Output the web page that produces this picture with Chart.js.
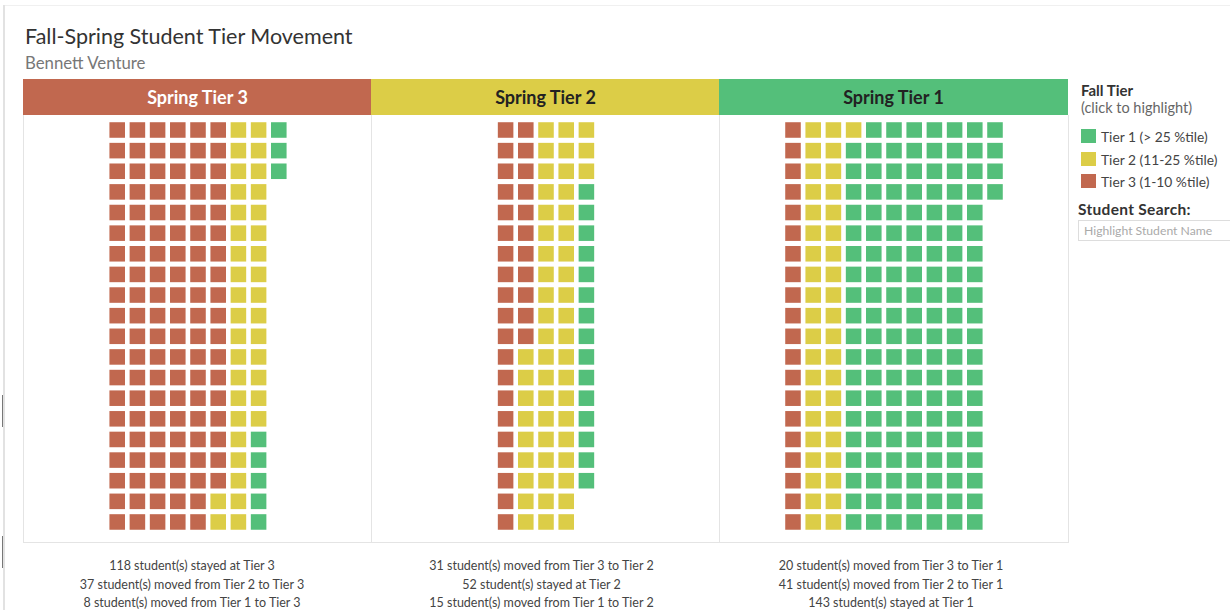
<!DOCTYPE html>
<html>
<head>
<meta charset="utf-8">
<script src="https://cdn.jsdelivr.net/npm/chart.js@4.4.1/dist/chart.umd.min.js"></script>
<style>
  html, body { margin: 0; padding: 0; background: #fff; }
  body { width: 1230px; height: 610px; position: relative; overflow: hidden; font-family: 'Lato', 'Noto Sans', sans-serif; }
  .frame-top { position: absolute; left: 3px; top: 5px; width: 1227px; height: 1px; background: #f0f0f0; }
  .frame-left { position: absolute; left: 3px; top: 5px; width: 2px; height: 605px; background: #e2e2e2; }
  .grip { position: absolute; left: 2px; width: 1px; background: #777; }
  #title { position: absolute; left: 25px; top: 23px; font-size: 21.5px; color: #333; white-space: nowrap; }
  #subtitle { position: absolute; left: 25px; top: 52px; font-size: 16.8px; color: #777; white-space: nowrap; }
  .header { position: absolute; top: 79px; height: 36px; line-height: 37px; text-align: center; font-size: 18px; font-weight: bold; }
  .panel { position: absolute; top: 115px; height: 427px; border-left: 1px solid #e4e4e4; border-bottom: 1px solid #e4e4e4; }
  .panel.last { border-right: 1px solid #e4e4e4; }
  .panel canvas { position: absolute; left: 0; top: 0; }
  .caption { position: absolute; top: 557px; text-align: center; font-size: 12.5px; line-height: 18.5px; color: #444; white-space: nowrap; }
  #legend { position: absolute; left: 1081px; top: 81px; color: #333; }
  #legend .ltitle { font-size: 15px; font-weight: bold; color: #333; }
  #legend .lsub { font-size: 14.5px; color: #666; margin-top: 0px; }
  #legend .item { position: relative; height: 22.5px; font-size: 13.8px; color: #444; line-height: 15px; padding-left: 20px; }
  #legend .item span { position: absolute; left: 0; top: 0; width: 15px; height: 14px; }
  #search-label { position: absolute; left: 1078px; top: 200px; font-size: 15.5px; font-weight: bold; color: #333; letter-spacing: 0.3px; }
  #search { position: absolute; left: 1078px; top: 220px; width: 160px; height: 21px; border: 1px solid #ddd; font-size: 12.2px; color: #aaa; line-height: 20px; padding-left: 5px; box-sizing: border-box; }
</style>
</head>
<body>
<div class="frame-top"></div>
<div class="frame-left"></div>
<div class="grip" style="top:395px;height:32px"></div>
<div class="grip" style="top:536px;height:32px"></div>
<div id="title">Fall-Spring Student Tier Movement</div>
<div id="subtitle">Bennett Venture</div>
<div id="panels"></div>
<div id="legend"></div>
<div id="search-label">Student Search:</div>
<div id="search">Highlight Student Name</div>

<script>
// spring tier columns (left to right)
const springTiers = [3, 2, 1];
const springLabels = ['Spring Tier 3', 'Spring Tier 2', 'Spring Tier 1'];
// fall tier of the students in each spring tier
const fallTiers = [3, 2, 1];
const fromTier3 = [118, 31, 20];
const fromTier2 = [37, 52, 41];
const fromTier1 = [8, 15, 143];
const legendLabels = ['Tier 1 (> 25 %tile)', 'Tier 2 (11-25 %tile)', 'Tier 3 (1-10 %tile)'];
const rowsPerColumn = 20;

const tierColors = { 1: '#54bf7a', 2: '#dccd47', 3: '#c1684f' };
const headerText = { 1: '#222', 2: '#222', 3: '#fff' };

const panelLeft = 23;
const panelWidth = 348;
const panelHeight = 427;
const colStep = 20.2;
const rowStep = 20.63;
const topOffset = 15;

const panelsDiv = document.querySelector('#panels');

springTiers.forEach((spring, p) => {
	const counts = [fromTier3[p], fromTier2[p], fromTier1[p]];
	const total = counts.reduce((a, b) => a + b, 0);
	const nCols = Math.ceil(total / rowsPerColumn);
	const left = panelLeft + p * panelWidth;

	// header
	let header = document.createElement('div');
	header.className = 'header';
	header.style.left = left + 'px';
	header.style.width = (panelWidth + 1) + 'px';
	header.style.background = tierColors[spring];
	header.style.color = headerText[spring];
	header.textContent = springLabels[p];
	document.body.appendChild(header);

	// panel with chart
	let panel = document.createElement('div');
	panel.className = 'panel' + (p == springTiers.length - 1 ? ' last' : '');
	panel.style.left = left + 'px';
	panel.style.width = panelWidth + 'px';
	let canvas = document.createElement('canvas');
	canvas.width = panelWidth;
	canvas.height = panelHeight;
	canvas.style.width = panelWidth + 'px';
	canvas.style.height = panelHeight + 'px';
	panel.appendChild(canvas);
	panelsDiv.appendChild(panel);

	// one dataset per fall tier, students stacked column by column
	let k = 0;
	const datasets = fallTiers.map((fall, f) => {
		let pts = [];
		for (let i = 0; i < counts[f]; i++) {
			pts.push({ x: Math.floor(k / rowsPerColumn), y: k % rowsPerColumn });
			k++;
		}
		return {
			label: 'Tier ' + fall,
			data: pts,
			pointStyle: 'rect',
			pointRadius: 11,
			pointHoverRadius: 11,
			borderWidth: 0,
			backgroundColor: tierColors[fall],
			borderColor: tierColors[fall]
		};
	});

	const xHalf = panelWidth / colStep / 2;
	const yMin = -topOffset / rowStep;

	new Chart(canvas, {
		type: 'scatter',
		data: { datasets: datasets },
		options: {
			responsive: false,
			animation: false,
			events: [],
			layout: { padding: 0, autoPadding: false },
			plugins: { legend: { display: false }, tooltip: { enabled: false } },
			scales: {
				x: { type: 'linear', display: false, min: (nCols - 1) / 2 - xHalf, max: (nCols - 1) / 2 + xHalf },
				y: { type: 'linear', display: false, reverse: true, min: yMin, max: yMin + panelHeight / rowStep }
			}
		}
	});

	// captions under each panel (sit a little left of the panel centre)
	let cap = document.createElement('div');
	cap.className = 'caption';
	cap.style.left = left + 'px';
	cap.style.width = (panelWidth - 10 + p * 3) + 'px';
	cap.innerHTML = fallTiers.map((fall, f) => {
		if (fall == spring) return `${counts[f]} student(s) stayed at Tier ${spring}`;
		return `${counts[f]} student(s) moved from Tier ${fall} to Tier ${spring}`;
	}).join('<br>');
	document.body.appendChild(cap);
});

// legend
let legend = document.querySelector('#legend');
let code = `<div class="ltitle">Fall Tier</div><div class="lsub">(click to highlight)</div><div style="height:13px"></div>`;
[1, 2, 3].forEach((t, i) => {
	code += `<div class="item"><span style="background:${tierColors[t]}"></span>${legendLabels[i]}</div>`;
});
legend.innerHTML = code;
</script>
</body>
</html>
